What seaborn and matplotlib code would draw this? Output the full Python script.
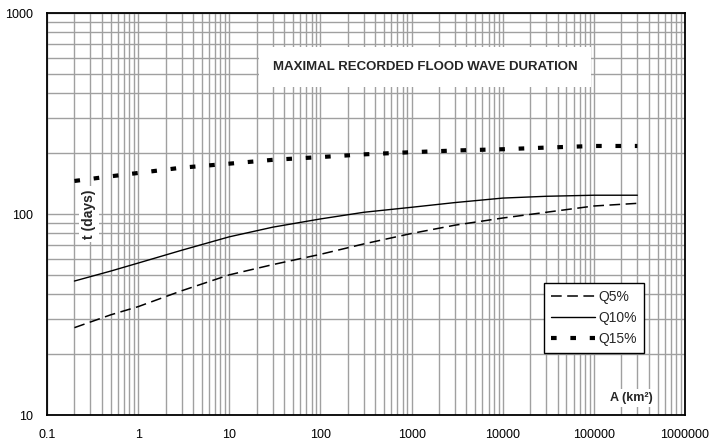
import matplotlib
matplotlib.use("Agg")
import matplotlib.pyplot as plt
import matplotlib.ticker as mticker
import seaborn as sns
import pandas as pd

area = [0.2, 0.5, 1, 3, 10, 30, 100, 300, 1000, 3000, 10000, 30000, 100000, 300000]
q5 = [27.2, 31.5, 34.6, 41.5, 49.8, 56, 63, 71, 80, 88, 95.5, 102, 109.6, 113]
q10 = [46.4, 52, 57, 66, 77, 86, 94.5, 102, 108, 114, 120, 122.5, 124, 124]
q15 = [146, 154, 160, 170, 178, 186, 192, 198, 203, 207, 210, 214, 218, 218]
series_names = ["Q5%", "Q10%", "Q15%"]
x_ticks = [0.1, 1, 10, 100, 1000, 10000, 100000, 1000000]
x_tick_labels = ["0.1", "1", "10", "100", "1000", "10000", "100000", "1000000"]
y_ticks = [10, 100, 1000]
y_tick_labels = ["10", "100", "1000"]
title_text = "MAXIMAL RECORDED FLOOD WAVE DURATION"

sns.set_style("white")
plt.rcParams["font.family"] = ["Liberation Sans", "DejaVu Sans"]

fig = plt.figure(figsize=(7.1, 4.43), dpi=100)
ax = fig.add_axes([47/710, 1-415/443, (685-47)/710, (415-13)/443])

df = pd.DataFrame({"A": area * 3,
                   "t": q5 + q10 + q15,
                   "s": [series_names[0]]*len(area) + [series_names[1]]*len(area) + [series_names[2]]*len(area)})

styles = {
    "Q5%": dict(lw=1.1, dashes=(7, 3.6)),
    "Q10%": dict(lw=1.0, dashes=None),
    "Q15%": dict(lw=3.0, dashes=(1.35, 3.3)),
}
for name in series_names:
    sub = df[df["s"] == name]
    st = styles[name]
    kw = {}
    if st["dashes"] is not None:
        kw["dashes"] = st["dashes"]
    sns.lineplot(data=sub, x="A", y="t", ax=ax, color="black", lw=st["lw"],
                 label=name, **kw)

ax.set_xscale("log")
ax.set_yscale("log")
ax.set_xlim(0.1, 1000000)
ax.set_ylim(10, 1000)

ax.xaxis.set_major_locator(mticker.FixedLocator(x_ticks))
ax.xaxis.set_major_formatter(mticker.FixedFormatter(x_tick_labels))
ax.yaxis.set_major_locator(mticker.FixedLocator(y_ticks))
ax.yaxis.set_major_formatter(mticker.FixedFormatter(y_tick_labels))
ax.xaxis.set_minor_locator(mticker.LogLocator(base=10, subs=range(2, 10), numticks=20))
ax.yaxis.set_minor_locator(mticker.LogLocator(base=10, subs=range(2, 10), numticks=20))
ax.xaxis.set_minor_formatter(mticker.NullFormatter())
ax.yaxis.set_minor_formatter(mticker.NullFormatter())

ax.grid(True, which="both", color="#a0a0a0", lw=1.0)
ax.set_axisbelow(True)
for sp in ax.spines.values():
    sp.set_visible(True)
    sp.set_color("black")
    sp.set_linewidth(1.3)

ax.tick_params(axis="both", which="major", length=4, width=1, direction="out",
               labelsize=9, colors="black", pad=6)
ax.tick_params(axis="both", which="minor", length=0)
ax.set_xlabel("")
ax.set_ylabel("")

ax.text((425-47)/638, 1-(67-13)/402, title_text, transform=ax.transAxes,
        ha="center", va="center", fontsize=9.5, fontweight="bold",
        bbox=dict(facecolor="white", edgecolor="none", pad=10))
ax.text((89-47)/638, 0.5, "t (days)", transform=ax.transAxes, rotation=90,
        ha="center", va="center", fontsize=10, fontweight="bold",
        bbox=dict(facecolor="white", edgecolor="none", pad=2))
ax.text((631-47)/638, 1-(398-13)/402, "A (km²)", transform=ax.transAxes,
        ha="center", va="center", fontsize=9, fontweight="bold",
        bbox=dict(facecolor="white", edgecolor="none", pad=2))

leg = ax.legend(loc="upper left", bbox_to_anchor=((544-47)/638, 1-(283-13)/402),
                frameon=True, fancybox=False, framealpha=1, edgecolor="black",
                fontsize=10, handlelength=3.2, handletextpad=0.2,
                borderpad=0.5, labelspacing=0.5, borderaxespad=0)
leg.get_frame().set_linewidth(1.0)

fig.savefig("out.png", dpi=100)
